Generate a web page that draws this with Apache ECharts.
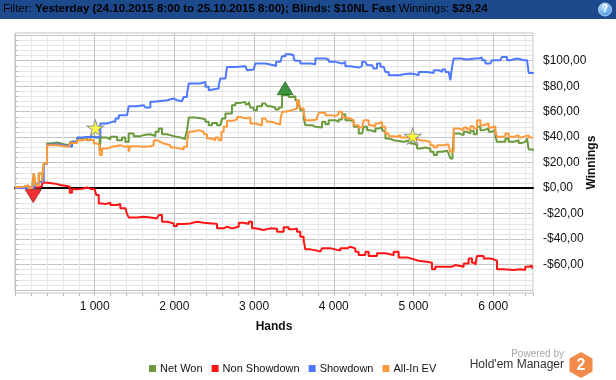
<!DOCTYPE html>
<html><head><meta charset="utf-8">
<script src="https://cdn.jsdelivr.net/npm/echarts@6/dist/echarts.min.js"></script>
<style>html,body{margin:0;padding:0;background:#fff}#c{width:616px;height:380px}</style>
</head><body><div id="c"></div>
<script>
// ---- data (hands, $) ----
const seriesNames = ['Net Won', 'Non Showdown', 'Showdown', 'All-In EV'];
const xTickLabels = ['1 000', '2 000', '3 000', '4 000', '5 000', '6 000'];
const netWon = [[0,0.5],[13,1.0],[110,2.1],[170,0],[214,0],[235,11.5],[260,2.4],[298,11.5],[340,5],[361,19.3],[402,35.0],[444,35.8],[528,34.5],[611,33.7],[674,32.4],[695,36.3],[779,39.0],[842,40.3],[904,37.6],[946,40.3],[1009,39.0],[1063,29.3],[1075,39.7],[1155,38.2],[1197,40.3],[1281,37.6],[1343,39.7],[1385,36.3],[1427,42.9],[1490,40.8],[1573,41.6],[1615,42.3],[1699,40.8],[1762,44.2],[1803,46.8],[1845,42.3],[1908,40.8],[1992,39.7],[2075,38.6],[2138,40.3],[2159,45.5],[2180,55.4],[2263,54.6],[2347,53.8],[2389,52.0],[2431,49.4],[2473,51.2],[2535,49.4],[2577,50.7],[2598,54.6],[2640,58.5],[2723,65.1],[2765,66.9],[2828,67.7],[2891,65.9],[2933,67.7],[2953,63.3],[2995,61.2],[3037,64.3],[3100,66.4],[3142,67.7],[3163,64.3],[3204,63.3],[3267,61.7],[3309,63.3],[3351,72.9],[3393,73.7],[3434,71.6],[3476,72.1],[3518,69.0],[3560,65.1],[3581,61.2],[3623,54.6],[3644,49.4],[3727,48.1],[3769,49.4],[3790,47.6],[3853,52.0],[3894,50.2],[3936,53.3],[4020,52.0],[4062,53.8],[4104,58.0],[4145,53.3],[4208,52.0],[4250,48.1],[4313,42.9],[4355,44.2],[4376,48.1],[4418,45.5],[4459,44.2],[4522,46.8],[4564,48.1],[4606,45.5],[4627,44.2],[4648,39.0],[4689,37.6],[4752,37.1],[4794,38.2],[4815,36.3],[4878,37.1],[4920,37.6],[4961,35.0],[5003,33.7],[5045,31.1],[5087,31.9],[5149,31.1],[5212,28.5],[5254,25.9],[5296,28.5],[5359,29.3],[5421,28.5],[5442,27.2],[5463,23.3],[5490,27.2],[5505,42.9],[5568,41.6],[5630,44.2],[5672,42.9],[5714,45.0],[5756,42.3],[5798,48.1],[5840,45.5],[5881,46.8],[5944,44.2],[5986,45.5],[6028,40.3],[6049,36.3],[6111,36.3],[6153,39.0],[6195,36.3],[6258,37.6],[6320,35.5],[6362,36.3],[6404,37.6],[6425,39.0],[6446,30.3],[6500,29.24]];
const nonShowdown = [[0,0],[26,0.5],[256,0.5],[298,1.6],[340,4.2],[402,3.7],[486,2.4],[570,1.6],[653,1.0],[687,-3.7],[716,-1.0],[779,-0.3],[862,0.5],[904,-1.0],[967,-0.3],[996,-1.6],[1021,-5.5],[1051,-12.0],[1092,-12.5],[1134,-11.5],[1197,-13.3],[1281,-12.5],[1322,-15.9],[1385,-17.2],[1406,-20.4],[1427,-23.0],[1531,-22.5],[1615,-23.0],[1699,-23.8],[1782,-23.8],[1803,-21.2],[1845,-26.4],[1908,-27.7],[1992,-29.8],[2033,-28.2],[2117,-27.7],[2200,-26.4],[2284,-27.2],[2368,-27.7],[2472,-28.2],[2535,-31.6],[2619,-30.3],[2661,-31.6],[2723,-30.3],[2807,-27.2],[2870,-28.2],[2932,-26.4],[2974,-31.6],[3016,-32.9],[3121,-31.6],[3204,-32.0],[3288,-34.2],[3371,-30.8],[3434,-32.4],[3497,-31.6],[3539,-34.2],[3580,-38.2],[3622,-40.8],[3643,-48.1],[3706,-49.1],[3789,-49.9],[3831,-51.2],[3852,-47.3],[3957,-48.1],[4019,-49.1],[4082,-47.3],[4166,-46.0],[4208,-47.3],[4270,-49.9],[4312,-52.5],[4396,-49.9],[4438,-53.3],[4542,-51.2],[4647,-52.5],[4751,-49.9],[4814,-54.4],[4919,-55.9],[5002,-57.0],[5065,-57.8],[5170,-58.6],[5232,-63.8],[5274,-61.7],[5379,-61.7],[5483,-60.4],[5525,-61.7],[5630,-59.1],[5692,-55.2],[5734,-58.6],[5776,-60.4],[5797,-53.3],[5881,-55.2],[5964,-55.9],[6006,-57.0],[6048,-63.8],[6132,-64.3],[6257,-63.8],[6341,-64.3],[6403,-61.7],[6445,-60.9],[6487,-62.5],[6500,-62.5]];
const showdown = [[0,0],[235,0],[260,3],[298,5],[361,19],[402,34],[444,34.5],[528,33.7],[611,33.2],[674,32.4],[716,36.3],[779,39.7],[842,40.3],[946,39.7],[1009,40.3],[1071,50.7],[1155,52.0],[1218,52.0],[1260,54.6],[1302,57.2],[1406,58.5],[1427,64.3],[1531,65.1],[1615,65.1],[1636,63.3],[1699,67.7],[1741,69.0],[1908,70.3],[1992,69.0],[2033,68.2],[2096,69.0],[2117,71.6],[2159,74.2],[2180,82.1],[2326,83.4],[2389,79.5],[2431,76.9],[2452,78.2],[2556,80.8],[2577,86.0],[2640,87.3],[2661,95.1],[2765,95.7],[2891,94.6],[2912,92.5],[2933,93.1],[2995,93.8],[3016,97.8],[3142,97.8],[3163,96.5],[3246,95.7],[3276,99.1],[3330,99.1],[3351,103.5],[3393,105.1],[3455,104.3],[3497,101.7],[3518,99.9],[3581,97.8],[3706,97.2],[3769,101.7],[3894,100.9],[3936,99.1],[4020,97.8],[4104,99.1],[4145,95.7],[4208,94.6],[4313,95.7],[4355,99.1],[4397,97.8],[4418,96.5],[4480,95.2],[4501,93.8],[4543,97.8],[4585,95.2],[4627,93.8],[4648,91.2],[4689,88.6],[4815,89.4],[4878,89.9],[4961,89.4],[5024,88.6],[5066,91.2],[5170,90.4],[5254,92.5],[5317,91.2],[5359,93.1],[5400,91.2],[5442,89.9],[5463,84.7],[5484,95.2],[5505,101.7],[5589,100.9],[5672,101.7],[5777,101.7],[5819,102.5],[5860,100.4],[5902,97.8],[5965,97.8],[5986,100.4],[6090,100.9],[6111,103.0],[6174,100.4],[6216,101.7],[6300,100.4],[6383,100.4],[6425,100.9],[6446,90.4],[6500,91.2]];
const allInEV = [[0,0.5],[13,1.0],[110,2.1],[170,0],[214,0],[235,11.5],[260,2.4],[298,11.5],[340,5],[361,19.3],[402,33.7],[528,32.4],[674,31.9],[695,35.5],[779,37.6],[842,38.2],[946,37.6],[988,35.0],[1030,33.7],[1063,25.9],[1092,31.1],[1155,32.4],[1218,33.7],[1322,32.4],[1385,32.9],[1427,28.5],[1448,32.9],[1531,32.4],[1615,32.9],[1699,33.7],[1741,37.6],[1782,36.3],[1824,35.0],[1866,33.7],[1950,31.9],[2012,31.1],[2075,30.3],[2117,32.4],[2159,36.3],[2180,44.2],[2222,45.5],[2305,44.2],[2368,42.3],[2410,39.0],[2452,40.3],[2473,37.6],[2514,39.7],[2556,37.6],[2590,44.2],[2619,48.1],[2661,52.8],[2723,53.8],[2786,55.9],[2828,54.6],[2891,55.4],[2953,50.7],[3016,49.4],[3100,54.6],[3142,55.9],[3163,52.0],[3225,50.7],[3288,49.9],[3330,53.3],[3351,59.9],[3393,61.2],[3476,62.5],[3539,69.5],[3560,67.7],[3581,62.5],[3623,58.5],[3644,53.3],[3727,53.8],[3790,55.9],[3811,59.1],[3894,57.2],[3978,56.5],[4020,58.0],[4062,59.9],[4104,55.4],[4145,54.6],[4208,53.3],[4250,49.4],[4313,47.6],[4355,48.1],[4376,53.3],[4439,49.4],[4480,48.1],[4522,50.7],[4564,52.0],[4606,48.1],[4648,42.9],[4689,40.8],[4752,40.3],[4794,41.6],[4836,39.7],[4920,40.8],[4961,39.0],[5024,37.6],[5087,37.1],[5149,36.3],[5212,33.7],[5254,31.9],[5296,33.7],[5380,34.5],[5442,32.9],[5463,28.5],[5505,46.8],[5568,45.5],[5630,47.6],[5672,46.0],[5714,48.6],[5756,46.8],[5798,53.3],[5840,49.4],[5881,50.7],[5944,47.6],[5986,48.6],[6028,44.2],[6049,40.3],[6111,40.8],[6153,42.9],[6195,40.3],[6258,41.6],[6320,39.7],[6362,40.8],[6404,41.6],[6446,39.7],[6500,39.7]];
const starPoints = [[1009, 47.3], [4990, 40.8]];
const highPoint = [[3390, 78.4]];
const lowPoint = [[229, -6.3]];

const colors = ['#6a9a3c', '#ff1414', '#4d78ff', '#ff9a3c'];
const FONT = 'Liberation Sans, Arial, sans-serif';
const gridMajor = '#c4c4c4', gridMinor = '#e6e6e6';

const chart = echarts.init(document.getElementById('c'), null, {renderer: 'canvas'});

function money(v) {
  const s = Math.abs(v).toFixed(2).replace('.', ',');
  return (v < 0 ? '-$' : '$') + s;
}
function lineSeries(name, data, i) {
  return {
    name, type: 'line', data, step: 'end', xAxisIndex: 1, yAxisIndex: 1,
    showSymbol: false, symbol: 'none', animation: false,
    lineStyle: {color: colors[i], width: 2}, itemStyle: {color: colors[i]}, z: 3 + i
  };
}
const starPath = 'path://M50,0 L61,35 L98,35 L68,57 L79,91 L50,70 L21,91 L32,57 L2,35 L39,35 Z';

chart.setOption({
  animation: false,
  backgroundColor: '#fff',
  grid: [
    {left: 15, right: 83, top: 33, bottom: 87, show: true, borderColor: '#c2c2c2', borderWidth: 1, backgroundColor: 'transparent'},
    {left: 15, right: 83, top: 35.25, bottom: 90, show: false}
  ],
  xAxis: [
    {
      gridIndex: 0, type: 'value', min: 0, max: 6500, interval: 200,
      name: 'Hands', nameLocation: 'middle', nameGap: 28, nameMoveOverlap: false,
      nameTextStyle: {fontFamily: FONT, fontSize: 12, fontWeight: 'bold', color: '#111'},
      axisLine: {show: false},
      axisTick: {show: true, length: 3, lineStyle: {color: '#bbb'}},
      axisLabel: {
        show: true, margin: 8, fontFamily: FONT, fontSize: 12, color: '#111', hideOverlap: false,
        formatter: v => (v > 0 && v % 1000 === 0) ? xTickLabels[v / 1000 - 1] : ''
      },
      splitLine: {show: true, lineStyle: {width: 1, color: [gridMajor, gridMinor, gridMinor, gridMinor, gridMinor]}}
    },
    {
      gridIndex: 1, type: 'value', min: 0, max: 6500, show: true,
      axisLine: {show: true, onZero: true, lineStyle: {color: '#000', width: 2}},
      axisTick: {show: false}, axisLabel: {show: false}, splitLine: {show: false}
    }
  ],
  yAxis: [
    {gridIndex: 0, type: 'value', min: 0, max: 1, show: false},
    {
      gridIndex: 1, type: 'value', position: 'right', min: -80, max: 120, interval: 4,
      name: 'Winnings', nameLocation: 'middle', nameRotate: 90, nameGap: 53, nameMoveOverlap: false,
      nameTextStyle: {fontFamily: FONT, fontSize: 12, fontWeight: 'bold', color: '#111'},
      axisLine: {show: false},
      axisTick: {show: true, length: 3, lineStyle: {color: '#bbb'}},
      axisLabel: {
        show: true, margin: 10, fontFamily: FONT, fontSize: 12, color: '#111', hideOverlap: false,
        formatter: v => (v % 20 === 0 && v >= -60 && v <= 100) ? money(v) : ''
      },
      splitLine: {show: true, lineStyle: {width: 1, color: [gridMajor, gridMinor, gridMinor, gridMinor, gridMinor]}}
    }
  ],
  legend: {
    data: seriesNames, left: 144, top: 358, icon: 'rect', itemWidth: 7, itemHeight: 7, itemGap: 9,
    textStyle: {fontFamily: FONT, fontSize: 11, color: '#111', padding: [0, 0, 0, -1]},
    selectedMode: false
  },
  series: [
    lineSeries(seriesNames[0], netWon, 0),
    lineSeries(seriesNames[1], nonShowdown, 1),
    lineSeries(seriesNames[2], showdown, 2),
    lineSeries(seriesNames[3], allInEV, 3),
    {type: 'scatter', xAxisIndex: 1, yAxisIndex: 1, data: starPoints, symbol: starPath, symbolSize: [17, 16], z: 10,
     itemStyle: {color: '#ffff1a', borderColor: '#7a7aa0', borderWidth: 1}},
    {type: 'scatter', xAxisIndex: 1, yAxisIndex: 1, data: highPoint, symbol: 'triangle', symbolSize: [16, 13], z: 10,
     itemStyle: {color: '#107a10', borderColor: '#0b5a0b', borderWidth: 0.8}},
    {type: 'scatter', xAxisIndex: 1, yAxisIndex: 1, data: lowPoint, symbol: 'triangle', symbolRotate: 180, symbolSize: [16, 13], z: 10,
     itemStyle: {color: '#ee0000', borderColor: '#a00000', borderWidth: 0.8}}
  ],
  graphic: [
    {type: 'rect', left: 0, top: 0, z: 100, shape: {width: 616, height: 19}, style: {fill: '#1c4a8c'}},
    {type: 'text', left: 3, top: 3, z: 101, style: {
      text: '{n|Filter: }{b|Yesterday (24.10.2015 8:00 to 25.10.2015 8:00); Blinds: $10NL Fast}{n| Winnings: }{b|$29,24}',
      rich: {
        n: {fontFamily: FONT, fontSize: 11.5, color: '#fff'},
        b: {fontFamily: FONT, fontSize: 11.5, fontWeight: 'bold', color: '#fff'}
      }
    }},
    {type: 'circle', z: 101, shape: {cx: 605, cy: 9.5, r: 6.5},
     style: {fill: new echarts.graphic.RadialGradient(0.4, 0.35, 0.7, [{offset: 0, color: '#bfe3ff'}, {offset: 1, color: '#3a8ee0'}]), stroke: '#dfefff', lineWidth: 0.8}},
    {type: 'text', z: 102, x: 605, y: 9.5, style: {text: '?', fontFamily: FONT, fontSize: 10, fontWeight: 'bold', fill: '#fff', align: 'center', verticalAlign: 'middle'}},
    {type: 'text', z: 101, x: 564, y: 354, style: {text: 'Powered by', fontFamily: FONT, fontSize: 10, fill: '#a8a8a8', align: 'right', verticalAlign: 'middle'}},
    {type: 'text', z: 101, x: 564, y: 364.5, style: {text: "Hold'em Manager", fontFamily: FONT, fontSize: 12, fill: '#333', align: 'right', verticalAlign: 'middle'}},
    {type: 'polygon', z: 101, shape: {points: [[581, 352], [592.5, 358.5], [592.5, 371.5], [581, 378], [569.5, 371.5], [569.5, 358.5]]},
     style: {fill: '#f28a4a'}},
    {type: 'text', z: 102, x: 581, y: 365.5, style: {text: '2', fontFamily: FONT, fontSize: 16, fontWeight: 'bold', fill: '#fff', align: 'center', verticalAlign: 'middle'}}
  ]
});
</script>
</body></html>
